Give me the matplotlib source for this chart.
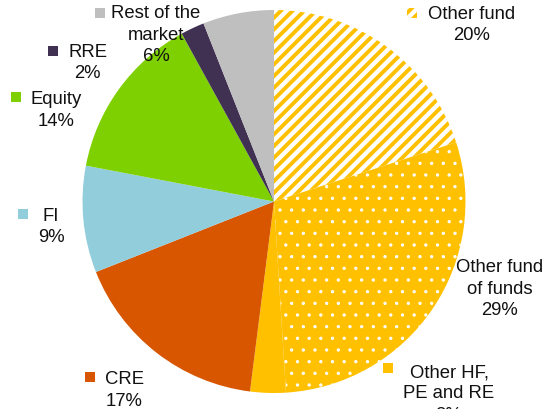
import matplotlib
matplotlib.use('Agg')
import matplotlib.pyplot as plt
from matplotlib.patches import Rectangle

plt.rcParams['font.family'] = ['Liberation Sans', 'DejaVu Sans']

# market share of fund types
categories = ['Other fund', 'Other fund\nof funds', 'Other HF,\nPE and RE', 'CRE',
              'FI', 'Equity', 'RRE', 'Rest of the\nmarket']
shares = [20, 29, 3, 17, 9, 14, 2, 6]

YELLOW = '#FFC000'
colors = ['white', YELLOW, YELLOW, '#D95600', '#92CDDC', '#7ED000', '#403152', '#BFBFBF']
hatches = ['//', '.', None, None, None, None, None, None]
hatch_widths = {'//': 4.0, '.': 1.0}

# label anchors in pixels: (centre x, first baseline y, key x, key y)
label_pos = [
    (471.5, 19, 407, 8),
    (499.5, 272, 437, 259),
    (449, 377, 383, 363),
    (124.5, 384, 85, 372),
    (51, 221, 18, 209),
    (56, 104, 11, 92),
    (87.5, 57, 48, 46),
    (156, 18, 95, 8),
]
line_step = 21.5
key_size = 9.5

W, H, DPI = 545, 409, 70
fig = plt.figure(figsize=(W / DPI, H / DPI), dpi=DPI)

cx, cy, r = 274, 201.5, 191.5
ax = fig.add_axes([(cx - r) / W, (H - cy - r) / H, 2 * r / W, 2 * r / H])
wedges, _ = ax.pie(shares, colors=colors, startangle=90, counterclock=False,
                   wedgeprops=dict(linewidth=0))
ax.set_xlim(-1, 1)
ax.set_ylim(-1, 1)


def style_patch(p, hatch):
    p.set_linewidth(0)
    if hatch is None:
        return
    if hatch == '//':
        p.set_facecolor('white')
        p.set_edgecolor(YELLOW)
    else:
        p.set_facecolor(YELLOW)
        p.set_edgecolor('white')
    p.set_hatch(hatch)
    lw = hatch_widths[hatch]
    if hasattr(p, 'set_hatch_linewidth'):
        p.set_hatch_linewidth(lw)
    else:
        p._hatch_linewidth = lw


for w, h in zip(wedges, hatches):
    style_patch(w, h)

# overlay in pixel coordinates for labels and legend keys
ov = fig.add_axes([0, 0, 1, 1], zorder=5)
ov.set_xlim(0, W)
ov.set_ylim(H, 0)
ov.axis('off')

for name, val, col, h, (tx, ty, kx, ky) in zip(categories, shares, colors, hatches, label_pos):
    key = Rectangle((kx, ky), key_size, key_size, facecolor=col, linewidth=0)
    ov.add_patch(key)
    style_patch(key, h)
    lines = name.split('\n') + [f'{val}%']
    for i, line in enumerate(lines):
        ov.text(tx, ty + i * line_step, line, ha='center', va='baseline',
                fontsize=19, color='#111111')

fig.savefig('out.png', dpi=DPI)
